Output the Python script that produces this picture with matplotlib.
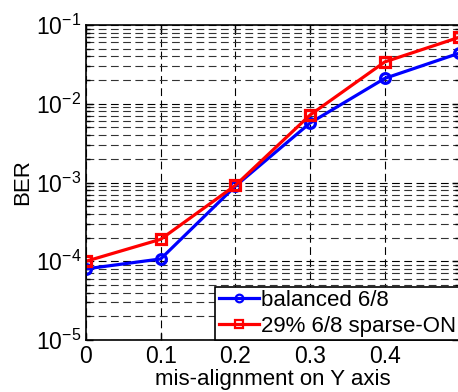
import matplotlib
matplotlib.use("Agg")
import matplotlib.pyplot as plt
from matplotlib.ticker import LogLocator, NullFormatter

# data
misalign = [0.0, 0.1, 0.2, 0.3, 0.4, 0.5]
ber_balanced = [8.0e-5, 1.07e-4, 9.0e-4, 5.7e-3, 2.1e-2, 4.4e-2]
ber_sparse = [1.0e-4, 1.9e-4, 9.2e-4, 7.2e-3, 3.4e-2, 7.0e-2]
x_ticks = [0, 0.1, 0.2, 0.3, 0.4]
x_tick_labels = ["0", "0.1", "0.2", "0.3", "0.4"]

plt.rcParams["font.family"] = ["Liberation Sans", "DejaVu Sans"]
plt.rcParams["mathtext.fontset"] = "custom"
plt.rcParams["mathtext.rm"] = "Liberation Sans"
plt.rcParams["mathtext.it"] = "Liberation Sans:italic"
plt.rcParams["mathtext.bf"] = "Liberation Sans:bold"

fig = plt.figure(figsize=(4.58, 3.92), dpi=100)
ax = fig.add_axes([86 / 458, 1 - 340 / 392, 373.5 / 458, 315 / 392])

ax.semilogy(misalign, ber_balanced, color="#0000ff", lw=2.3, marker="o",
            ms=7, mew=2.3, fillstyle="none", label="balanced 6/8")
ax.semilogy(misalign, ber_sparse, color="#ff0000", lw=2.3, marker="s",
            ms=6.5, mew=2.3, fillstyle="none", label="29% 6/8 sparse-ON")

ax.set_xlim(0, 0.5)
ax.set_ylim(1e-5, 1e-1)
ax.set_xticks(x_ticks)
ax.set_xticklabels(x_tick_labels)
ax.yaxis.set_major_locator(LogLocator(base=10, numticks=10))
ax.yaxis.set_minor_locator(LogLocator(base=10, subs=range(2, 10), numticks=10))
ax.yaxis.set_minor_formatter(NullFormatter())

ax.grid(True, which="major", axis="both", color="black", lw=0.8,
        linestyle=(0, (7, 4)))
ax.grid(True, which="minor", axis="y", color="#333333", lw=0.8,
        linestyle=(0, (7, 4)))

ax.tick_params(which="both", direction="in", top=True, right=True,
               labelsize=16.5, width=1)
ax.tick_params(which="major", length=5)
ax.tick_params(which="minor", length=3)
for s in ax.spines.values():
    s.set_linewidth(1.2)

ax.set_xlabel("mis-alignment on Y axis", fontsize=16, labelpad=1)
ax.set_ylabel("BER", fontsize=16, labelpad=2)

leg = ax.legend(loc="lower right", bbox_to_anchor=(1.0, 0.0), fontsize=16,
                fancybox=False, framealpha=1, edgecolor="black",
                borderpad=0.15, handlelength=1.8, handletextpad=0.1,
                labelspacing=0.2, borderaxespad=0)
leg.get_frame().set_linewidth(1.2)
for h in leg.get_lines():
    h.set_markersize(5.5)
    h.set_markeredgewidth(1.6)

fig.savefig("out.png", dpi=100)
plt.close(fig)
